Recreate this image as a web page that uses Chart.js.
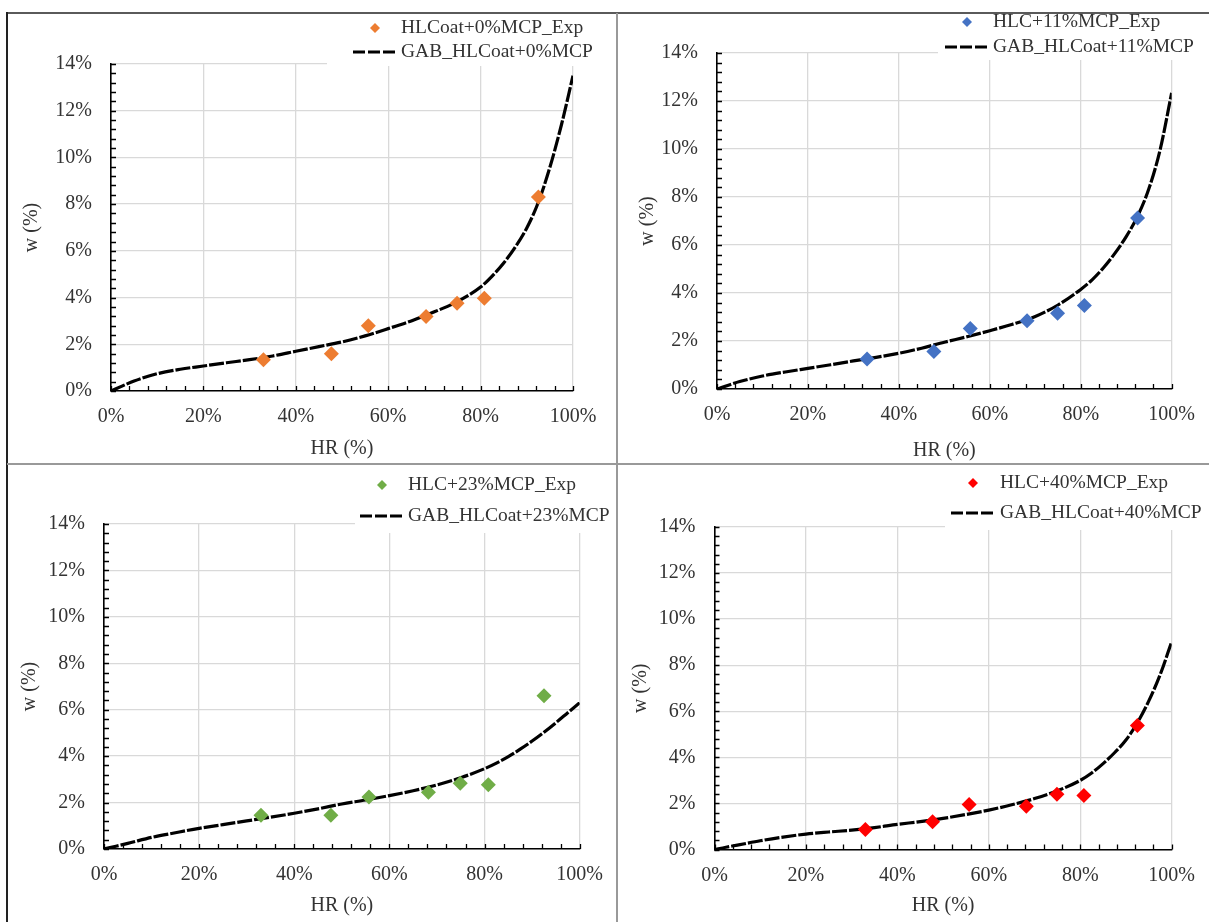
<!DOCTYPE html>
<html>
<head>
<meta charset="utf-8">
<script src="https://cdn.jsdelivr.net/npm/chart.js@4.4.0/dist/chart.umd.min.js"></script>
<style>
  body { margin: 0; background: #fff; width: 1209px; height: 922px; overflow: hidden; position: relative; }
  canvas { position: absolute; }
  .ln { position: absolute; z-index: 5; }
</style>
</head>
<body>
<canvas id="c0" width="610" height="451" style="left:7px;top:13px"></canvas>
<canvas id="c1" width="592" height="451" style="left:617px;top:13px"></canvas>
<canvas id="c2" width="610" height="458" style="left:7px;top:464px"></canvas>
<canvas id="c3" width="592" height="458" style="left:617px;top:464px"></canvas>

<div class="ln" style="left:7px;top:12px;width:1202px;height:2px;background:#5a5a5a"></div>
<div class="ln" style="left:6px;top:12px;width:2px;height:910px;background:#222"></div>
<div class="ln" style="left:616px;top:13px;width:1.5px;height:909px;background:#999"></div>
<div class="ln" style="left:7px;top:463px;width:1202px;height:1.5px;background:#999"></div>

<script>
// humidade relativa (%) - pontos da curva GAB e pontos experimentais
const hrCurve = [0, 2.5, 5, 10, 15, 20, 25, 30, 35, 40, 45, 50, 55, 60, 65, 70, 75, 80, 82.5, 85, 87.5, 90, 92.5, 95, 97.5, 100];
const hrExp = [33, 47.7, 55.7, 68.2, 74.9, 80.8, 92.5];

// w (%) - GAB
const wGab0  = [0, 0.22, 0.43, 0.74, 0.93, 1.07, 1.21, 1.34, 1.5, 1.7, 1.9, 2.1, 2.36, 2.67, 3.0, 3.39, 3.83, 4.45, 4.92, 5.48, 6.16, 6.98, 8.08, 9.58, 11.4, 13.5];
const wGab11 = [0, 0.16, 0.31, 0.54, 0.71, 0.86, 1.01, 1.17, 1.32, 1.49, 1.7, 1.95, 2.18, 2.43, 2.7, 3.02, 3.5, 4.15, 4.55, 5.05, 5.65, 6.35, 7.2, 8.35, 10.0, 12.34];
const wGab23 = [0, 0.12, 0.24, 0.5, 0.7, 0.89, 1.05, 1.21, 1.37, 1.54, 1.73, 1.94, 2.11, 2.3, 2.51, 2.76, 3.07, 3.46, 3.7, 3.98, 4.3, 4.65, 5.03, 5.44, 5.87, 6.3];
const wGab40 = [0, 0.1, 0.19, 0.38, 0.54, 0.67, 0.76, 0.84, 0.95, 1.09, 1.21, 1.35, 1.52, 1.71, 1.94, 2.21, 2.55, 3.0, 3.32, 3.73, 4.2, 4.75, 5.5, 6.45, 7.6, 9.02];

// w (%) - experimental
const wExp0  = [1.34, 1.6, 2.79, 3.19, 3.76, 3.97, 8.31];
const wExp11 = [1.25, 1.56, 2.52, 2.84, 3.16, 3.48, 7.12];
const wExp23 = [1.45, 1.45, 2.24, 2.44, 2.83, 2.77, 6.6];
const wExp40 = [0.87, 1.2, 1.95, 1.88, 2.4, 2.34, 5.38];

const expLabels = ['HLCoat+0%MCP_Exp', 'HLC+11%MCP_Exp', 'HLC+23%MCP_Exp', 'HLC+40%MCP_Exp'];
const gabLabels = ['GAB_HLCoat+0%MCP', 'GAB_HLCoat+11%MCP', 'GAB_HLCoat+23%MCP', 'GAB_HLCoat+40%MCP'];
const xTitle = 'HR (%)';
const yTitle = 'w (%)';

const FONT = '"Liberation Serif", "Times New Roman", serif';
const TXT = '#333';

// marcas de escala para dentro (estilo Excel)
const innerTicks = {
  id: 'innerTicks',
  afterDraw(chart) {
    const { ctx, chartArea: a, scales: { x, y } } = chart;
    ctx.save();
    ctx.strokeStyle = '#000';
    ctx.lineWidth = 1.3;
    ctx.beginPath();
    for (let v = 0; v <= 100; v += 4) {
      const px = Math.round(x.getPixelForValue(v)) + 0.5;
      ctx.moveTo(px, a.bottom); ctx.lineTo(px, a.bottom - 5);
    }
    for (let k = 0; k <= 35; k++) {
      const py = Math.round(y.getPixelForValue(k * 0.4)) + 0.5;
      ctx.moveTo(a.left, py); ctx.lineTo(a.left + 5, py);
    }
    ctx.stroke();
    ctx.restore();
  }
};

// legenda em caixa branca no canto superior direito
const boxLegend = {
  id: 'boxLegend',
  afterDraw(chart, args, o) {
    const ctx = chart.ctx;
    const ds = chart.data.datasets;
    ctx.save();
    ctx.fillStyle = '#fff';
    ctx.fillRect(o.boxX, 0, chart.width - o.boxX, o.boxBottom);
    // diamante
    const r = 5;
    ctx.fillStyle = ds[0].backgroundColor;
    ctx.beginPath();
    ctx.moveTo(o.mx, o.my - r); ctx.lineTo(o.mx + r, o.my);
    ctx.lineTo(o.mx, o.my + r); ctx.lineTo(o.mx - r, o.my);
    ctx.closePath(); ctx.fill();
    // linha tracejada
    ctx.strokeStyle = '#000';
    ctx.lineWidth = 3.2;
    ctx.setLineDash([12, 3]);
    ctx.beginPath();
    ctx.moveTo(o.mx - 22, o.ly); ctx.lineTo(o.mx + 22, o.ly);
    ctx.stroke();
    ctx.setLineDash([]);
    ctx.fillStyle = TXT;
    ctx.font = '19.5px ' + FONT;
    ctx.textBaseline = 'middle';
    ctx.textAlign = 'left';
    ctx.fillText(ds[0].label, o.tx, o.my);
    ctx.fillText(ds[1].label, o.tx, o.ly);
    ctx.restore();
  }
};

function pts(xs, ys) {
  return xs.map((v, i) => ({ x: v, y: ys[i] }));
}

function makePanel(id, i, wExp, wGab, color, L) {
  new Chart(document.getElementById(id), {
    type: 'scatter',
    data: {
      datasets: [
        {
          label: expLabels[i],
          data: pts(hrExp, wExp),
          backgroundColor: color,
          borderWidth: 0,
          pointStyle: 'rectRot',
          pointRadius: 7.5,
          showLine: false
        },
        {
          label: gabLabels[i],
          data: pts(hrCurve, wGab),
          borderColor: '#000',
          borderWidth: 3.2,
          borderDash: [15, 2],
          pointRadius: 0,
          showLine: true,
          cubicInterpolationMode: 'monotone'
        }
      ]
    },
    options: {
      responsive: false,
      animation: false,
      layout: { padding: { top: L.top, right: L.right, left: 0, bottom: 0 } },
      plugins: {
        legend: { display: false },
        tooltip: { enabled: false },
        boxLegend: L.leg
      },
      scales: {
        x: {
          type: 'linear',
          min: 0, max: 100,
          ticks: { stepSize: 20, padding: 14, color: TXT, font: { family: FONT, size: 20 }, callback: v => v + '%' },
          grid: { color: '#d9d9d9', lineWidth: 1.3, drawTicks: false },
          border: { color: '#000', width: 1.6 },
          title: { display: true, text: xTitle, color: TXT, font: { family: FONT, size: 20 }, padding: { top: 0, bottom: L.xtp } },
          afterFit: s => { s.height = L.xh; }
        },
        y: {
          min: 0, max: 14,
          ticks: { stepSize: 2, padding: 19, color: TXT, font: { family: FONT, size: 20 }, callback: v => v + '%' },
          grid: { color: '#d9d9d9', lineWidth: 1.3, drawTicks: false },
          border: { color: '#000', width: 1.6 },
          title: { display: true, text: yTitle, color: TXT, font: { family: FONT, size: 20 }, padding: { top: L.ytp, bottom: 0 } },
          afterFit: s => { s.width = L.yw; }
        }
      }
    },
    plugins: [innerTicks, boxLegend]
  });
}

makePanel('c0', 0, wExp0, wGab0, '#ED7D31', {
  top: 51, right: 44, yw: 104, xh: 73, xtp: 3, ytp: 13,
  leg: { boxX: 320, boxBottom: 53, mx: 368, my: 15, ly: 39, tx: 394 }
});
makePanel('c1', 1, wExp11, wGab11, '#4472C4', {
  top: 40, right: 29, yw: 100, xh: 75, xtp: 1.5, ytp: 19,
  leg: { boxX: 321, boxBottom: 47, mx: 350, my: 9, ly: 34, tx: 376 }
});
makePanel('c2', 2, wExp23, wGab23, '#70AD47', {
  top: 60, right: 36, yw: 97, xh: 73, xtp: 4, ytp: 11,
  leg: { boxX: 348, boxBottom: 69, mx: 375, my: 21, ly: 52, tx: 401 }
});
makePanel('c3', 3, wExp40, wGab40, '#FF0000', {
  top: 63, right: 34.5, yw: 97.5, xh: 72.5, xtp: 4, ytp: 12,
  leg: { boxX: 328, boxBottom: 66, mx: 356, my: 19, ly: 49, tx: 383 }
});
</script>
</body>
</html>
